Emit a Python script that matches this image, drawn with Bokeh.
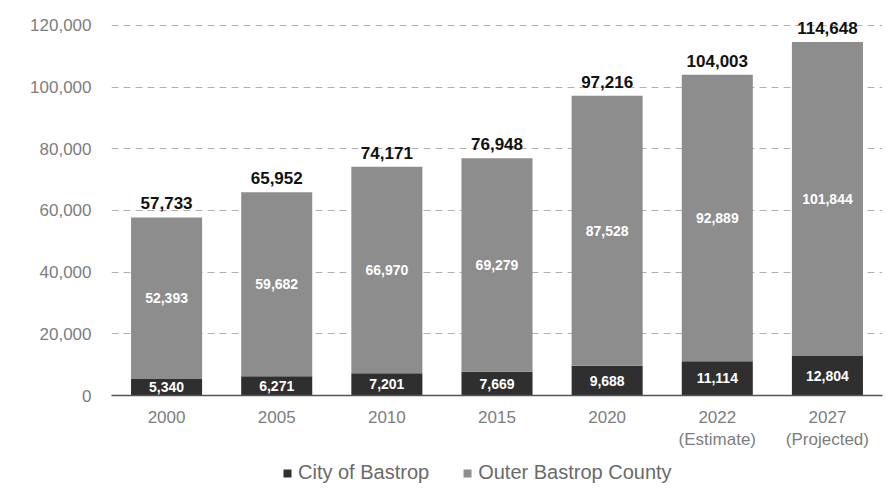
from bokeh.plotting import figure
from bokeh.layouts import column
from bokeh.models import (ColumnDataSource, FixedTicker, NumeralTickFormatter,
                          Legend, LegendItem, Range1d, FactorRange)
from bokeh.core.properties import value
from bokeh.embed import file_html
from bokeh.resources import INLINE

# ---- data ----
categories = ["2000", "2005", "2010", "2015", "2020", "2022\n(Estimate)", "2027\n(Projected)"]
city_of_bastrop = [5340, 6271, 7201, 7669, 9688, 11114, 12804]
outer_bastrop_county = [52393, 59682, 66970, 69279, 87528, 92889, 101844]
totals = [57733, 65952, 74171, 76948, 97216, 104003, 114648]
y_ticks = [0, 20000, 40000, 60000, 80000, 100000, 120000]
series_names = ["City of Bastrop", "Outer Bastrop County"]

DARK = "#2f2f2f"
LIGHT = "#8d8d8d"
FONT = "Liberation Sans"

src = ColumnDataSource(dict(
    cat=categories,
    city=city_of_bastrop,
    outer=outer_bastrop_county,
    total=totals,
    city_mid=[c / 2 for c in city_of_bastrop],
    outer_mid=[c + o / 2 for c, o in zip(city_of_bastrop, outer_bastrop_county)],
    city_lbl=[f"{v:,}" for v in city_of_bastrop],
    outer_lbl=[f"{v:,}" for v in outer_bastrop_county],
    total_lbl=[f"{v:,}" for v in totals],
))

p = figure(x_range=FactorRange(*categories, range_padding=0), y_range=Range1d(0, 125500),
           width=883, height=452, output_backend="svg", toolbar_location=None,
           min_border_left=111, min_border_right=1, min_border_top=8, min_border_bottom=57)
p.outline_line_color = None
p.background_fill_color = "white"

r_city = p.vbar(x="cat", top="city", bottom=0, width=0.645, source=src,
                fill_color=DARK, line_color=None)
r_outer = p.vbar(x="cat", top="total", bottom="city", width=0.645, source=src,
                 fill_color=LIGHT, line_color=None)

p.text(x="cat", y="city_mid", text="city_lbl", source=src, text_color="white",
       text_font=value(FONT), text_font_style="bold", text_font_size="14px",
       text_align="center", text_baseline="middle")
p.text(x="cat", y="outer_mid", text="outer_lbl", source=src, text_color="white",
       text_font=value(FONT), text_font_style="bold", text_font_size="14px",
       text_align="center", text_baseline="middle")
p.text(x="cat", y="total", text="total_lbl", source=src, text_color="#111111",
       text_font=value(FONT), text_font_style="bold", text_font_size="17px",
       text_align="center", text_baseline="bottom", y_offset=-8)

# grid
p.xgrid.grid_line_color = None
p.ygrid.grid_line_color = "#b0b0b0"
p.ygrid.grid_line_dash = "7 5"
p.ygrid.grid_line_width = 1

# y axis
p.yaxis.ticker = FixedTicker(ticks=y_ticks)
p.yaxis.formatter = NumeralTickFormatter(format="0,0")
p.yaxis.axis_line_color = None
p.yaxis.major_tick_line_color = None
p.yaxis.minor_tick_line_color = None
p.yaxis.major_label_standoff = 14
p.yaxis.major_label_text_font = FONT
p.yaxis.major_label_text_font_size = "17px"
p.yaxis.major_label_text_color = "#7d7d7d"

# x axis
p.xaxis.axis_line_color = "#555555"
p.xaxis.axis_line_width = 1.5
p.xaxis.major_tick_line_color = None
p.xaxis.minor_tick_line_color = None
p.xaxis.major_label_standoff = 6
p.xaxis.major_label_text_font = FONT
p.xaxis.major_label_text_font_size = "17px"
p.xaxis.major_label_text_color = "#7d7d7d"

# legend strip below the chart (proxy renderers sit outside the visible range)
lf = figure(width=883, height=37, x_range=Range1d(0, 1), y_range=Range1d(0, 1),
            output_backend="svg", toolbar_location=None,
            x_axis_location=None, y_axis_location=None,
            min_border_left=0, min_border_right=0, min_border_top=0, min_border_bottom=0)
lf.outline_line_color = None
lf.xgrid.grid_line_color = None
lf.ygrid.grid_line_color = None
lg_city = lf.vbar(x=[-5], top=[-5], bottom=[-6], width=0.5, fill_color=DARK, line_color=None)
lg_outer = lf.vbar(x=[-5], top=[-5], bottom=[-6], width=0.5, fill_color=LIGHT, line_color=None)

legend = Legend(items=[LegendItem(label=series_names[0], renderers=[lg_city]),
                       LegendItem(label=series_names[1], renderers=[lg_outer])],
                orientation="horizontal", location=(171, 5),
                glyph_width=10, glyph_height=10, label_standoff=6, spacing=33,
                label_text_font=FONT, label_text_font_size="20px",
                label_text_color="#6a6a6a", border_line_color=None,
                background_fill_alpha=0, margin=0, padding=4)
lf.add_layout(legend, "center")

layout = column(p, lf, spacing=0)
open("out.html", "w").write(file_html(layout, INLINE))
